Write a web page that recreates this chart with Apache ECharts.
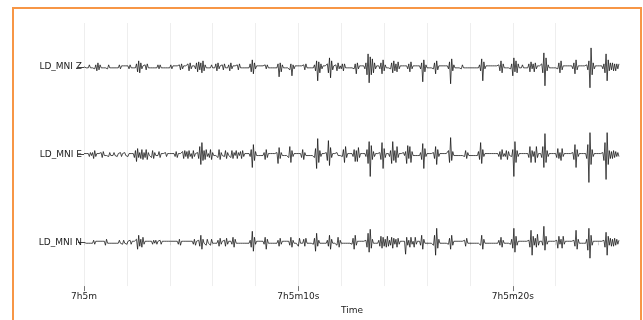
<!DOCTYPE html>
<html>
<head>
<meta charset="utf-8">
<script src="https://cdn.jsdelivr.net/npm/echarts@6/dist/echarts.min.js"></script>
<style>
  html, body { margin: 0; padding: 0; background: #fff; }
  #chart { width: 643px; height: 320px; }
</style>
</head>
<body>
<div id="chart"></div>
<script>
// seismogram, 3 components, 20 samples per second, 0 - 25 s
const SAMPLE_STEP = 0.05
const AMP_SCALE = 88 // counts per trace spacing

const TRACE_NAMES = ['LD_MNI N', 'LD_MNI E', 'LD_MNI Z']
const TICK_SECONDS = [0, 2, 4, 6, 8, 10, 12, 14, 16, 18, 20, 22, 24]
const LABEL_SECONDS = [0, 10, 20]
const LABEL_TEXT = ['7h5m', '7h5m10s', '7h5m20s']

// one row = one second
const traceZ = [
  0, 1,-1, 1,-1, 2,-1, 1,-1, 1,-2, 2,-4, 4,-3, 2,-1, 1,-1, 1,
  -1, 1,-2, 2,-1, 1,-1, 1,-1, 1,-1, 1,-1, 2,-2, 1,-1, 1,-1, 1,
  -1, 1,-2, 2,-1, 1,-1, 1,-1, 3,-5, 6,-6, 4,-2, 1,-1, 2,-3, 3,
  -1, 1,-1, 1,-1, 1,-1, 1,-1, 2,-2, 2,-1, 1,-1, 1,-1, 1,-1, 1,
  -1, 2,-2, 1,-1, 1,-1, 1,-1, 2,-3, 3,-2, 1,-1, 1,-1, 3,-4, 4,
  -2, 1,-1, 1,-2, 4,-5, 5,-3, 4,-6, 6,-4, 2,-1, 1,-1, 1,-1, 2,
  -1, 1,-1, 3,-4, 4,-2, 1,-1, 2,-3, 3,-1, 1,-1, 2,-4, 4,-2, 1,
  -1, 1,-1, 2,-3, 3,-1, 1,-1, 1,-1, 1,-1, 1,-1, 3,-5, 7,-7, 4,
  -2, 1,-1, 1,-1, 1,-1, 1,-1, 2,-2, 2,-1, 1,-1, 1,-1, 1,-1, 1,
  -1, 3,-10, 4,-5, 2,-1, 1,-1, 1,-1, 1,-3, 3,-9, 2,-2, 1,-1, 1,
  -1, 1,-1, 1,-1, 2,-3, 3,-1, 1,-1, 1,-1, 1,-1, 2,-4, 6,-14, 5,
  -6, 3,-2, 1,-1, 1,-1, 3,-6, 9,-11, 6,-3, 1,-1, 2,-4, 4,-2, 1,
  -2, 3,-4, 3,-1, 1,-1, 1,-1, 1,-1, 1,-2, 3,-7, 4,-2, 1,-1, 1,
  -1, 1,-2, 4,-8, 13,-16, 10,-8, 8,-6, 4,-2, 1,-1, 1,-2, 4,-7, 7,
  -4, 2,-1, 1,-1, 1,-2, 4,-6, 6,-4, 3,-5, 5,-2, 1,-1, 1,-1, 1,
  -1, 1,-2, 3,-5, 5,-2, 1,-1, 1,-1, 1,-1, 1,-2, 4,-15, 7,-5, 2,
  -1, 1,-1, 1,-1, 1,-2, 4,-7, 6,-3, 1,-1, 1,-1, 1,-1, 1,-1, 1,
  -2, 5,-17, 8,-4, 2,-1, 1,-1, 1,-1, 1,-2, 2,-1, 1,-1, 1,-1, 1,
  -1, 1,-1, 1,-1, 1,-1, 1,-1, 2,-4, 8,-14, 5,-2, 1,-1, 1,-1, 1,
  -1, 1,-1, 1,-1, 1,-1, 2,-4, 6,-6, 3,-1, 1,-1, 1,-1, 1,-2, 3,
  -9, 9,-5, 6,-6, 3,-1, 1,-1, 2,-1, 1,-1, 1,-1, 3,-5, 5,-2, 3,
  -5, 4,-2, 1,-1, 1,-1, 3,-6, 14,-19, 9,-4, 2,-1, 1,-1, 1,-1, 1,
  -1, 1,-2, 4,-6, 6,-3, 1,-1, 1,-1, 1,-1, 1,-1, 1,-2, 4,-7, 7,
  -3, 1,-1, 1,-1, 1,-1, 1,-1, 2,-3, 6,-21, 19,-8, 4,-2, 1,-1, 1,
  -1, 1,-1, 1,-2, 3,-6, 13,-14, 7,-4, 4,-3, 4,-4, 3,-4, 3,-2, 3
]

const traceE = [
  1,-1, 1,-1, 1,-2, 2,-1, 2,-4, 4,-2, 1,-1, 1,-1, 2,-3, 3,-1,
  1,-1, 1,-2, 2,-1, 1,-1, 2,-1, 1,-2, 1,-1, 2,-2, 1,-1, 2,-1,
  1,-2, 1,-1, 1,-1, 1,-3, 4,-7, 6,-3, 2,-4, 5,-5, 2,-3, 5,-5,
  2,-1, 1,-3, 4,-4, 2,-1, 1,-1, 3,-3, 1,-1, 1,-1, 2,-2, 1,-1,
  1,-1, 1,-1, 1,-2, 3,-3, 1,-1, 1,-1, 3,-4, 4,-2, 3,-4, 4,-2,
  1,-4, 4,-2, 1,-1, 2,-4, 8,-10, 12,-6, 4,-5, 5,-2, 1,-3, 5,-5,
  2,-1, 1,-1, 1,-3, 5,-5, 2,-1, 1,-2, 4,-4, 2,-1, 1,-3, 4,-4,
  2,-1, 4,-4, 2,-1, 3,-4, 4,-2, 1,-1, 1,-1, 1,-2, 5,-13, 10,-6,
  3,-1, 1,-1, 1,-1, 1,-1, 2,-5, 5,-3, 1,-1, 1,-1, 1,-1, 1,-1,
  2,-9, 7,-4, 2,-1, 1,-1, 1,-1, 1,-3, 8,-8, 4,-2, 1,-1, 1,-1,
  1,-1, 1,-3, 5,-5, 2,-1, 1,-1, 1,-1, 1,-1, 1,-3, 6,-14, 16,-8,
  4,-2, 1,-1, 1,-1, 2,-6, 14,-11, 7,-3, 1,-1, 1,-1, 2,-1, 1,-1,
  1,-2, 5,-8, 8,-3, 1,-1, 1,-1, 1,-2, 5,-7, 4,-7, 7,-3, 1,-1,
  1,-1, 1,-2, 5,-9, 13,-22, 9,-5, 3,-2, 1,-1, 1,-1, 2,-5, 12,-14,
  6,-3, 1,-1, 1,-2, 4,-9, 13,-6, 4,-8, 8,-3, 1,-1, 1,-1, 2,-1,
  3,-9, 9,-4, 8,-8, 3,-1, 1,-1, 1,-1, 1,-1, 2,-5, 11,-14, 6,-2,
  1,-1, 1,-1, 1,-1, 2,-4, 8,-10, 5,-2, 1,-1, 1,-1, 1,-1, 1,-1,
  4,-8, 17,-6, 3,-1, 1,-1, 1,-1, 1,-1, 1,-1, 1,-2, 4,-4, 2,-1,
  1,-1, 1,-1, 1,-1, 1,-1, 3,-5, 12,-9, 5,-2, 1,-1, 1,-1, 1,-1,
  1,-1, 1,-1, 1,-1, 1,-2, 3,-5, 5,-2, 1,-2, 4,-5, 3,-1, 1,-2,
  5,-22, 13,-8, 4,-2, 1,-1, 1,-1, 1,-1, 1,-1, 1,-3, 8,-8, 4,-2,
  3,-8, 8,-3, 1,-1, 1,-3, 8,-13, 21,-8, 4,-2, 1,-1, 1,-1, 1,-1,
  1,-3, 6,-4, 2,-6, 6,-2, 1,-1, 1,-1, 1,-1, 1,-1, 2,-5, 10,-13,
  5,-2, 1,-1, 1,-1, 1,-1, 1,-4, 10,-28, 22,-10, 5,-2, 1,-1, 1,-1,
  1,-1, 1,-1, 2,-6, 12,-25, 22,-10, 4,-4, 3,-4, 4,-3, 3,-2, 2,-2
]

const traceN = [
  0, 1,-1, 1,-1, 1,-1, 1,-1, 2,-2, 1,-1, 1,-1, 1,-1, 1,-1, 1,
  -3, 3,-1, 1,-1, 1,-1, 1,-1, 1,-1, 1,-1, 2,-1, 1,-2, 2,-1, 1,
  -2, 1,-1, 2,-2, 1,-1, 1,-1, 3,-7, 7,-4, 3,-5, 5,-2, 1,-1, 1,
  -1, 1,-1, 1,-2, 2,-1, 2,-2, 1,-1, 2,-2, 1,-1, 1,-1, 1,-1, 1,
  -1, 1,-1, 1,-1, 1,-1, 1,-2, 3,-3, 1,-1, 1,-1, 1,-1, 1,-1, 1,
  -1, 1,-2, 3,-3, 1,-1, 2,-4, 7,-7, 3,-1, 1,-3, 3,-1, 1,-3, 3,
  -1, 1,-1, 1,-1, 2,-4, 4,-2, 1,-1, 2,-4, 4,-2, 1,-1, 1,-2, 5,
  -5, 3,-1, 1,-1, 1,-1, 1,-1, 1,-1, 1,-1, 1,-1, 2,-5, 11,-9, 5,
  -2, 1,-1, 1,-1, 1,-1, 1,-2, 5,-7, 3,-1, 1,-1, 1,-1, 1,-1, 1,
  -1, 2,-4, 4,-2, 1,-1, 1,-1, 1,-1, 1,-3, 5,-5, 2,-1, 1,-1, 1,
  -4, 4,-1, 1,-1, 3,-4, 4,-1, 1,-1, 1,-1, 1,-2, 4,-9, 9,-4, 2,
  -1, 1,-1, 1,-1, 1,-1, 2,-4, 7,-7, 3,-1, 1,-1, 1,-3, 5,-5, 2,
  -1, 1,-1, 1,-1, 1,-1, 1,-1, 1,-2, 4,-7, 7,-3, 1,-1, 1,-1, 1,
  -1, 1,-1, 2,-5, 9,-10, 13,-6, 3,-1, 1,-1, 1,-1, 2,-4, 6,-6, 5,
  -4, 3,-5, 6,-4, 2,-3, 5,-6, 4,-2, 3,-5, 4,-2, 1,-1, 1,-1, 1,
  -12, 5,-3, 2,-5, 5,-2, 1,-5, 5,-2, 1,-1, 1,-3, 7,-7, 3,-1, 1,
  -1, 1,-1, 1,-1, 1,-3, 7,-13, 14,-6, 3,-1, 1,-1, 1,-1, 1,-1, 1,
  -2, 4,-7, 7,-3, 1,-1, 1,-1, 1,-1, 1,-1, 1,-1, 2,-4, 4,-1, 1,
  -1, 1,-1, 1,-1, 1,-1, 1,-1, 1,-3, 7,-7, 3,-1, 1,-1, 1,-1, 1,
  -1, 1,-1, 1,-1, 1,-1, 2,-3, 5,-5, 2,-1, 1,-1, 1,-1, 1,-2, 3,
  -6, 14,-10, 6,-3, 1,-1, 1,-1, 1,-1, 1,-1, 1,-1, 2,-5, 12,-13, 6,
  -3, 4,-5, 8,-3, 1,-1, 1,-3, 16,-8, 6,-2, 1,-1, 1,-1, 1,-1, 1,
  -1, 2,-6, 6,-2, 3,-6, 6,-2, 1,-1, 1,-1, 1,-1, 1,-1, 2,-4, 12,
  -7, 3,-1, 1,-1, 1,-1, 1,-1, 3,-8, 14,-16, 7,-3, 1,-1, 1,-1, 1,
  -1, 1,-1, 1,-1, 2,-5, 10,-13, 6,-3, 4,-4, 3,-4, 4,-3, 3,-2, 2
]

// each trace drawn around its own baseline (N = 0, E = 1, Z = 2)
function toSeriesData(counts, baseline) {
  return counts.map((v, i) => [i * SAMPLE_STEP, baseline + v / AMP_SCALE])
}

const traces = [traceN, traceE, traceZ]

let chart = echarts.init(document.getElementById('chart'))

chart.setOption({
  animation: false,
  backgroundColor: '#fff',
  textStyle: { fontFamily: 'DejaVu Sans' },
  graphic: [
    {
      type: 'rect',
      shape: { x: 13, y: 8, width: 628, height: 340 },
      style: { fill: 'none', stroke: '#f79646', lineWidth: 2 },
      silent: true
    }
  ],
  grid: { left: 84, right: 23, top: 23, bottom: 33 },
  xAxis: [
    {
      type: 'value',
      min: 0,
      max: 25,
      interval: 2,
      axisLine: { show: false },
      axisTick: { show: true, customValues: TICK_SECONDS, length: 3, lineStyle: { color: '#cfcfcf' } },
      splitLine: { show: true, showMaxLine: false, lineStyle: { color: '#eeeeee', width: 1 } },
      axisLabel: {
        customValues: LABEL_SECONDS,
        formatter: v => LABEL_TEXT[LABEL_SECONDS.indexOf(v)] || '',
        fontSize: 9,
        color: '#222',
        margin: 6
      },
      name: 'Time',
      nameLocation: 'middle',
      nameGap: 19,
      nameTextStyle: { fontSize: 9, color: '#222' }
    },
    {
      type: 'value',
      min: 0,
      max: 25,
      position: 'bottom',
      axisLine: { show: false },
      axisTick: { show: true, customValues: LABEL_SECONDS, length: 5, lineStyle: { color: '#777' } },
      splitLine: { show: false },
      axisLabel: { show: false }
    }
  ],
  yAxis: {
    type: 'value',
    min: -0.5,
    max: 2.5,
    axisLine: { show: false },
    splitLine: { show: false },
    axisTick: { show: true, customValues: [0, 1, 2], length: 6, lineStyle: { color: '#444' } },
    axisLabel: {
      customValues: [0, 1, 2],
      formatter: v => TRACE_NAMES[Math.round(v)],
      fontSize: 9,
      color: '#222',
      margin: 2
    }
  },
  series: traces.map((counts, k) => ({
    name: TRACE_NAMES[k],
    type: 'line',
    xAxisIndex: 0,
    data: toSeriesData(counts, k),
    showSymbol: false,
    symbol: 'none',
    sampling: false,
    lineStyle: { color: '#111', width: 0.75 },
    silent: true
  }))
})
</script>
</body>
</html>
